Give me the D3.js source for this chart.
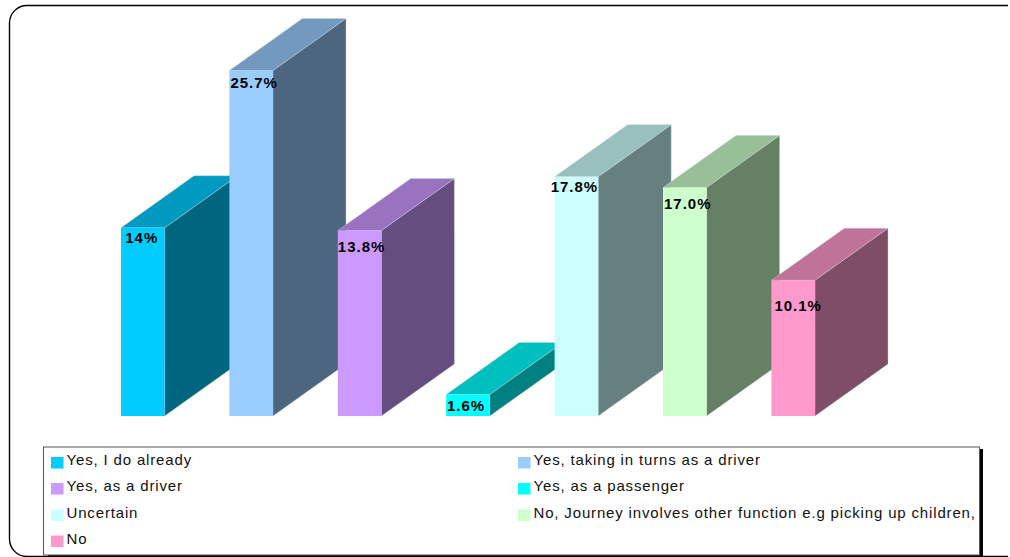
<!DOCTYPE html>
<html><head><meta charset="utf-8">
<script src="https://cdn.jsdelivr.net/npm/d3@7"></script>
<style>html,body{margin:0;padding:0;background:#fff;overflow:hidden}svg{display:block}</style></head>
<body><svg id="c" width="1010" height="557"></svg>
<script>
const categories = ["Yes, I do already","Yes, taking in turns as a driver","Yes, as a driver","Yes, as a passenger","Uncertain","No, Journey involves other function e.g picking up children,","No"];
const values = [14,25.7,13.8,1.6,17.8,17.0,10.1];
const valueLabels = ["14%","25.7%","13.8%","1.6%","17.8%","17.0%","10.1%"];
const colors = ["#00ccff","#99ccff","#cc99ff","#00ffff","#ccffff","#ccffcc","#ff99cc"];

const svg = d3.select("#c");
const font = "'Liberation Sans',Arial,sans-serif";

// outer rounded frame, open on the right where the picture crops it
svg.append("path")
  .attr("d","M1008,5.5H27A17.5,17.5 0 0 0 9.5,23V539A17.5,17.5 0 0 0 27,556.5H1008")
  .attr("fill","none").attr("stroke","#000").attr("stroke-width",1.4);

const step = 108.4;
const bx = d3.scalePoint().domain(categories).range([121,121+step*6]);
const bw = 43.6, dx = 73, dy = 52;
const y = d3.scaleLinear().domain([0,25.7]).range([416,70.5]);
// hand placement of the value labels relative to each bar's front face
const labelDx = [-1,3,2,-2,-2,3,5];
const labelDy = [15,17,22,17,15,22,31];

const g = svg.selectAll("g.bar").data(categories).enter().append("g").attr("class","bar");
g.each(function(c,i){
  const s = d3.select(this), x0 = bx(c), x1 = x0+bw, yt = y(values[i]), yb = y(0);
  const mix = k => { const r = d3.rgb(colors[i]); return d3.rgb(r.r*k,r.g*k,r.b*k).formatHex(); };
  s.append("path").attr("d",d3.line()([[x1,yb],[x1+dx,yb-dy],[x1+dx,yt-dy],[x1,yt]])+"Z").attr("fill",mix(0.5)).attr("stroke","#c8d4dc").attr("stroke-width",0.4);
  s.append("path").attr("d",d3.line()([[x0,yt],[x0+dx,yt-dy],[x1+dx,yt-dy],[x1,yt]])+"Z").attr("fill",mix(0.75)).attr("stroke","#c8d4dc").attr("stroke-width",0.4);
  s.append("rect").attr("x",x0).attr("y",yt).attr("width",bw).attr("height",yb-yt).attr("fill",colors[i]);
});
g.append("text")
 .attr("x",(c,i)=>bx(c)+bw/2+labelDx[i]).attr("y",(c,i)=>y(values[i])+labelDy[i])
 .attr("text-anchor","middle").attr("font-family",font).attr("font-size",15).attr("font-weight","bold").attr("letter-spacing",1).attr("fill","#000")
 .text((c,i)=>valueLabels[i]);

// legend
svg.append("rect").attr("x",48).attr("y",449).attr("width",935).attr("height",110).attr("fill","#000");
svg.append("rect").attr("x",43.5).attr("y",447).attr("width",936).attr("height",108).attr("fill","#fff").attr("stroke","#555").attr("stroke-width",1);
const colX = [51,518], rowY = [456,482,508.5,534.5];
const lg = svg.selectAll("g.leg").data(categories).enter().append("g").attr("class","leg");
lg.append("rect").attr("x",(c,i)=>colX[i%2]).attr("y",(c,i)=>rowY[Math.floor(i/2)]+1).attr("width",12.5).attr("height",11.5).attr("fill",(c,i)=>colors[i]);
lg.append("text").attr("x",(c,i)=>colX[i%2]+15.5).attr("y",(c,i)=>rowY[Math.floor(i/2)]+9)
 .attr("font-family",font).attr("font-size",15).attr("letter-spacing",0.84).attr("fill","#111").text(c=>c);
</script></body></html>
